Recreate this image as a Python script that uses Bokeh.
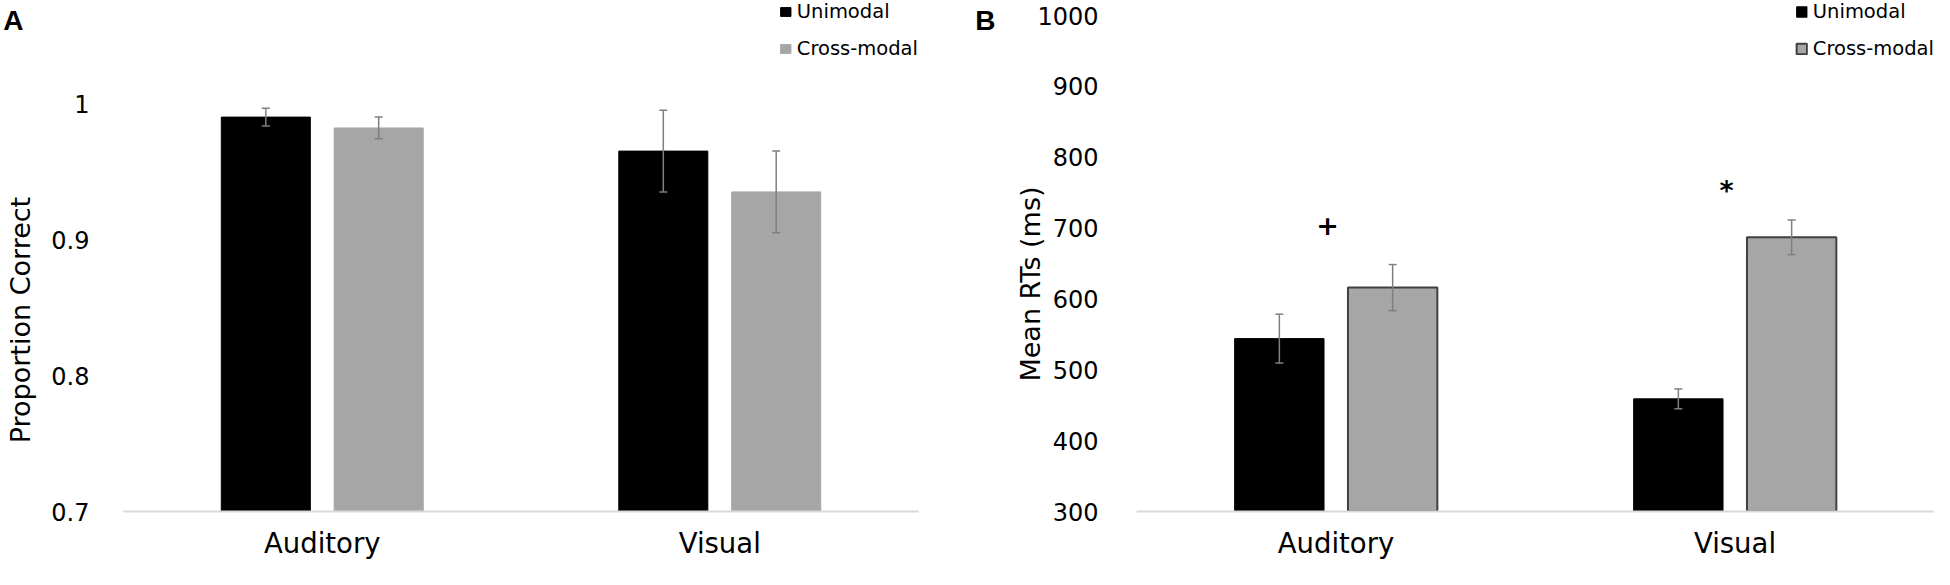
from bokeh.plotting import figure
from bokeh.models import (ColumnDataSource, FixedTicker, Legend, LegendItem,
                          Whisker, TeeHead, LinearAxis)
from bokeh.transform import dodge
from bokeh.layouts import row
from bokeh.embed import file_html
from bokeh.resources import INLINE
from bokeh.core.properties import value

# ---------------- data ----------------
categories = ["Auditory", "Visual"]
series = ["Unimodal", "Cross-modal"]

# Panel A: proportion correct
acc_uni = [0.990, 0.965]
acc_uni_err = [0.0066, 0.030]
acc_cross = [0.982, 0.935]
acc_cross_err = [0.008, 0.030]
acc_ticks = [0.7, 0.8, 0.9, 1.0]
acc_tick_labels = ["0.7", "0.8", "0.9", "1"]

# Panel B: mean RTs (ms)
rt_uni = [544, 459]
rt_uni_err = [34.5, 14]
rt_cross = [616, 687]
rt_cross_err = [32.5, 24.5]
rt_ticks = [300, 400, 500, 600, 700, 800, 900, 1000]
rt_tick_labels = ["300", "400", "500", "600", "700", "800", "900", "1000"]

sig_categories = ["Auditory", "Visual"]
sig_marks = ["+", "*"]
sig_y = [705, 753]

# ---------------- style ----------------
FONT = "DejaVu Sans"
BLACK = "#000000"
GRAY = "#a6a6a6"
ERR = "#7f7f7f"
AXIS = "#d9d9d9"
OFF = 0.142
BAR_W = 0.224
H = 569


def plain_axis(ax):
    ax.axis_label = None
    ax.axis_label_standoff = 0
    ax.axis_line_color = None
    ax.major_tick_line_color = None
    ax.major_tick_out = 0
    ax.major_tick_in = 0
    ax.minor_tick_line_color = None
    ax.minor_tick_out = 0
    ax.minor_tick_in = 0
    ax.major_label_text_color = BLACK


def panel(letter, ylabel, uni, uni_err, cross, cross_err, y0, y1, ticks, labels,
          width, borders, outline, glyph_h, tick_standoff,
          ylabel_at, ylabel_standoff, letter_at, letter_standoff):
    src = ColumnDataSource(dict(
        cat=categories, uni=uni, cross=cross,
        uni_hi=[v + e for v, e in zip(uni, uni_err)],
        uni_lo=[v - e for v, e in zip(uni, uni_err)],
        cross_hi=[v + e for v, e in zip(cross, cross_err)],
        cross_lo=[v - e for v, e in zip(cross, cross_err)],
    ))
    p = figure(x_range=categories, y_range=(y0, y1), width=width, height=H,
               output_backend="svg", toolbar_location=None, title=None,
               min_border_left=borders[0], min_border_right=borders[1],
               min_border_top=borders[2], min_border_bottom=borders[3])
    p.outline_line_color = None
    p.grid.visible = False
    p.background_fill_color = "white"
    p.border_fill_color = "white"

    r1 = p.vbar(x=dodge("cat", -OFF, range=p.x_range), top="uni", bottom=y0,
                width=BAR_W, source=src, fill_color=BLACK, line_color=BLACK,
                line_width=1)
    if outline:
        r2 = p.vbar(x=dodge("cat", OFF, range=p.x_range), top="cross", bottom=y0,
                    width=BAR_W, source=src, fill_color=GRAY, line_color="#404040",
                    line_width=2)
    else:
        r2 = p.vbar(x=dodge("cat", OFF, range=p.x_range), top="cross", bottom=y0,
                    width=BAR_W, source=src, fill_color=GRAY, line_color=GRAY,
                    line_width=1)

    for off, hi, lo in ((-OFF, "uni_hi", "uni_lo"), (OFF, "cross_hi", "cross_lo")):
        w = Whisker(source=src, base=dodge("cat", off, range=p.x_range),
                    upper=hi, lower=lo, line_color=ERR, line_width=1.5,
                    level="annotation",
                    upper_head=TeeHead(size=8, line_color=ERR, line_width=1.5),
                    lower_head=TeeHead(size=8, line_color=ERR, line_width=1.5))
        p.add_layout(w)

    # x axis
    xa = p.xaxis[0]
    plain_axis(xa)
    xa.axis_line_color = AXIS
    xa.axis_line_width = 2
    xa.major_label_text_font = FONT
    xa.major_label_text_font_size = "27.5px"
    xa.major_label_standoff = 15

    # y axis with value ticks
    ya = p.yaxis[0]
    plain_axis(ya)
    ya.ticker = FixedTicker(ticks=ticks)
    ya.major_label_overrides = {t: l for t, l in zip(ticks, labels)}
    ya.major_label_text_font = FONT
    ya.major_label_text_font_size = "24px"
    ya.major_label_standoff = tick_standoff

    # y axis title, centred on the value range
    yt = LinearAxis(ticker=FixedTicker(ticks=[ylabel_at]),
                    major_label_overrides={ylabel_at: ylabel})
    plain_axis(yt)
    yt.major_label_orientation = "parallel"
    yt.major_label_standoff = ylabel_standoff
    yt.major_label_text_font = FONT
    yt.major_label_text_font_size = "27px"
    p.add_layout(yt, "left")

    # panel letter
    la = LinearAxis(ticker=FixedTicker(ticks=[letter_at]),
                    major_label_overrides={letter_at: letter})
    plain_axis(la)
    la.major_label_standoff = letter_standoff
    la.major_label_text_font = "Liberation Sans"
    la.major_label_text_font_style = "bold"
    la.major_label_text_font_size = "28px"
    p.add_layout(la, "left")

    legend = Legend(items=[LegendItem(label=series[0], renderers=[r1]),
                           LegendItem(label=series[1], renderers=[r2])],
                    location="top_right")
    legend.label_text_font = FONT
    legend.label_text_font_size = "19.5px"
    legend.label_text_color = BLACK
    legend.glyph_width = 13
    legend.glyph_height = glyph_h
    legend.label_standoff = 5
    legend.label_height = 23
    legend.spacing = 14
    legend.padding = 0
    legend.margin = 0
    legend.border_line_color = None
    legend.background_fill_alpha = 0
    p.add_layout(legend)
    return p


pa = panel("A", "Proportion Correct", acc_uni, acc_uni_err, acc_cross, acc_cross_err,
           0.7, 1.07574, acc_ticks, acc_tick_labels, 962, (115, 44, 0, 58),
           False, 11, 34, 0.8408, 12, 1.0676, -21)

pb = panel("B", "Mean RTs (ms)", rt_uni, rt_uni_err, rt_cross, rt_cross_err,
           300, 1021.2, rt_ticks, rt_tick_labels, 972, (174, 0, 0, 58),
           True, 13, 38, 621, -12, 1005.7, 17)

sig_src = ColumnDataSource(dict(cat=sig_categories, mark=sig_marks, y=sig_y))
pb.text(x=dodge("cat", -0.021, range=pb.x_range), y="y", text="mark", source=sig_src,
        text_font=value(FONT), text_font_style="bold", text_font_size="27px",
        text_align="center", text_baseline="middle", text_color=BLACK)

layout = row(pa, pb, spacing=0)
open("out.html", "w").write(file_html(layout, INLINE))
